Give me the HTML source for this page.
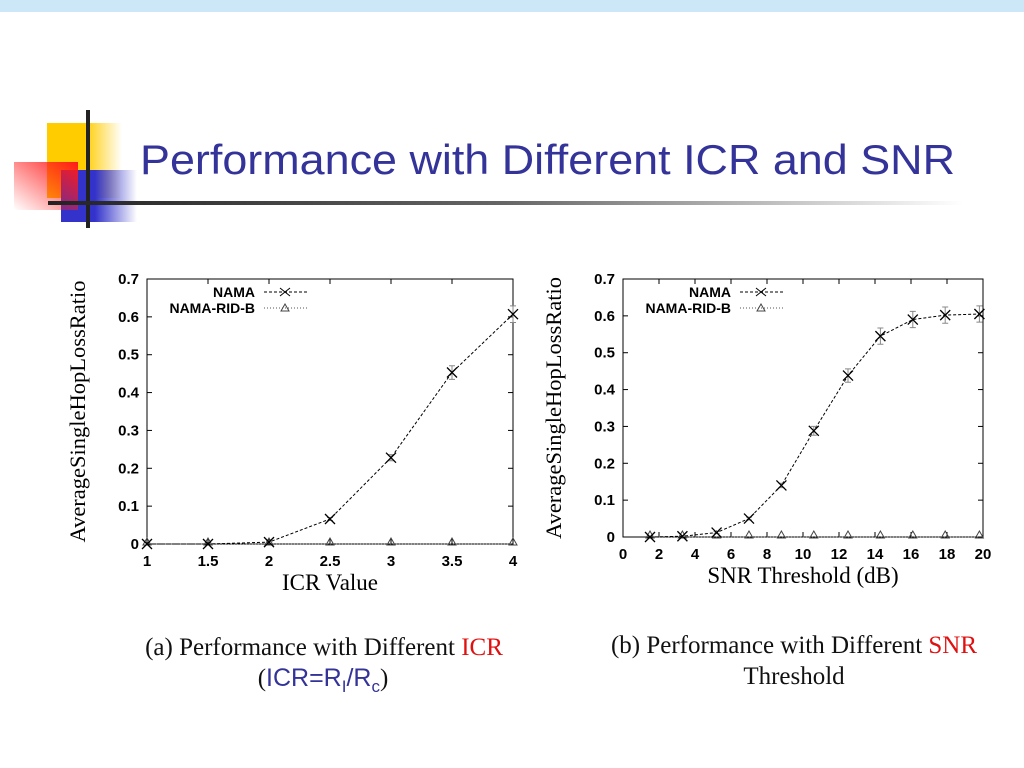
<!DOCTYPE html>
<html><head><meta charset="utf-8"><style>
html,body{margin:0;padding:0;background:#fff;width:1024px;height:768px;overflow:hidden}
svg{display:block}
</style></head><body>
<svg id="s" width="1024" height="768" xmlns="http://www.w3.org/2000/svg">
<defs>
<linearGradient id="gy" x1="0" x2="1"><stop offset="0.5" stop-color="#ffcc00"/><stop offset="1" stop-color="#ffcc00" stop-opacity="0"/></linearGradient>
<linearGradient id="gr" x1="1" y1="0" x2="0" y2="1"><stop offset="0" stop-color="#ff1a1a"/><stop offset="1" stop-color="#ff1a1a" stop-opacity="0"/></linearGradient>
<linearGradient id="gb" x1="0" x2="1"><stop offset="0.3" stop-color="#3333cc"/><stop offset="1" stop-color="#3333cc" stop-opacity="0"/></linearGradient>
<linearGradient id="gl" x1="0" x2="1"><stop offset="0" stop-color="#222"/><stop offset="0.5" stop-color="#666"/><stop offset="1" stop-color="#fff"/></linearGradient>
</defs>
<rect x="0" y="0" width="1024" height="12" fill="#cce8f8"/>
<g>
<rect x="47" y="123" width="75" height="75" fill="url(#gy)"/>
<rect x="77" y="170" width="60" height="52" fill="url(#gb)"/>
<rect x="61" y="170" width="30" height="52" fill="#3333cc"/>
<rect x="14" y="162" width="64" height="48" fill="url(#gr)"/>
<rect x="86" y="110" width="4" height="118" fill="#222"/>
</g>
<rect x="48" y="201" width="915" height="4" fill="url(#gl)"/>
<text x="140" y="174" textLength="815" lengthAdjust="spacingAndGlyphs" font-family="Liberation Sans, sans-serif" font-size="42" fill="#333399">Performance with Different ICR and SNR</text>
<g id="c1"></g>
<g id="c2"></g>
<text x="324" y="655" text-anchor="middle" font-family="Liberation Serif, serif" font-size="25" fill="#111">(a) Performance with Different <tspan fill="#e01010">ICR</tspan></text>
<text x="323" y="686" text-anchor="middle" font-family="Liberation Sans, sans-serif" font-size="25" fill="#333399"><tspan font-family="Liberation Serif, serif" fill="#111">(</tspan>ICR=R<tspan font-size="17" dy="6">I</tspan><tspan dy="-6">/R</tspan><tspan font-size="17" dy="6">c</tspan><tspan dy="-6" font-family="Liberation Serif, serif" fill="#111">)</tspan></text>
<text x="794" y="653" text-anchor="middle" font-family="Liberation Serif, serif" font-size="25" fill="#111">(b) Performance with Different <tspan fill="#e01010">SNR</tspan></text>
<text x="794" y="684" text-anchor="middle" font-family="Liberation Serif, serif" font-size="25" fill="#111">Threshold</text>
</svg>
<script>
const icrX=[1,1.5,2,2.5,3,3.5,4];
const icrNama=[0,0,0.005,0.066,0.228,0.453,0.607];
const icrNamaErr=[0,0,0.003,0.004,0.008,0.018,0.022];
const icrRid=[0,0,0,0,0,0,0];
const icrXTicks=["1","1.5","2","2.5","3","3.5","4"];
const snrX=[1.5,3.3,5.2,7.0,8.8,10.6,12.5,14.3,16.1,17.9,19.8];
const snrNama=[0,0.002,0.012,0.05,0.14,0.288,0.438,0.545,0.59,0.602,0.605];
const snrNamaErr=[0,0,0.003,0.004,0.006,0.012,0.018,0.022,0.022,0.022,0.022];
const snrRid=[0,0,0,0,0,0,0,0,0,0,0];
const snrXTicks=["0","2","4","6","8","10","12","14","16","18","20"];
const yTicks=["0","0.1","0.2","0.3","0.4","0.5","0.6","0.7"];
const NS="http://www.w3.org/2000/svg";
function mk(p,t,a){const e=document.createElementNS(NS,t);for(const k in a)e.setAttribute(k,a[k]);p.appendChild(e);return e;}
function chart(g,o){
 const sx=v=>o.L+(v-o.x0)/(o.x1-o.x0)*(o.R-o.L);
 const sy=v=>o.B-v/0.7*(o.B-o.T);
 const fr=mk(g,'rect',{x:o.L,y:o.T,width:o.R-o.L,height:o.B-o.T,fill:'none',stroke:'#000','stroke-width':1});
 
 yTicks.forEach(t=>{const y=sy(+t);
  mk(g,'line',{x1:o.L,x2:o.L+5,y1:y,y2:y,stroke:'#000'});mk(g,'line',{x1:o.R-5,x2:o.R,y1:y,y2:y,stroke:'#000'});
  const tx=mk(g,'text',{x:o.L-8,y:y+5,'text-anchor':'end','font-family':'Liberation Sans, sans-serif','font-size':15,'font-weight':'bold'});tx.textContent=t;
  });
 o.ticks.forEach(t=>{const x=sx(+t);
  mk(g,'line',{x1:x,x2:x,y1:o.B,y2:o.B-5,stroke:'#000'});mk(g,'line',{x1:x,x2:x,y1:o.T,y2:o.T+5,stroke:'#000'});
  const tx=mk(g,'text',{x:x,y:o.B+22,'text-anchor':'middle','font-family':'Liberation Sans, sans-serif','font-size':15,'font-weight':'bold'});tx.textContent=t;
  });
 const xt=mk(g,'text',{x:(o.L+o.R)/2,y:o.B+46,'text-anchor':'middle','font-family':'Liberation Serif, serif','font-size':23});xt.textContent=o.xl;
 
 const yt=mk(g,'text',{x:0,y:0,transform:`translate(${o.L-62},${(o.T+o.B)/2}) rotate(-90)`,'text-anchor':'middle','font-family':'Liberation Serif, serif','font-size':22.5});yt.textContent='AverageSingleHopLossRatio';
 
 const ptsR=o.xs.map((v,i)=>sx(v)+','+sy(o.rid[i])).join(' ');
 const lr=mk(g,'polyline',{points:ptsR,fill:'none',stroke:'#555','stroke-dasharray':'1,2'});
 const pts=o.xs.map((v,i)=>sx(v)+','+sy(o.nama[i])).join(' ');
 const ln=mk(g,'polyline',{points:pts,fill:'none',stroke:'#000','stroke-dasharray':'3,2'});
 o.xs.forEach((v,i)=>{const x=sx(v),y=sy(o.rid[i]);
  const tr=mk(g,'path',{d:`M${x-4},${y+1}L${x},${y-6}L${x+4},${y+1}Z`,fill:'none',stroke:'#444'});});
 o.xs.forEach((v,i)=>{const x=sx(v),y=sy(o.nama[i]);const e=o.err[i];
  if(e>0){const y1=sy(o.nama[i]+e),y2=sy(o.nama[i]-e);
   const eb=mk(g,'path',{d:`M${x},${y1}V${y2}M${x-3},${y1}H${x+3}M${x-3},${y2}H${x+3}`,stroke:'#888',fill:'none'});}
  const m=mk(g,'path',{d:`M${x-5},${y-5}L${x+5},${y+5}M${x-5},${y+5}L${x+5},${y-5}`,stroke:'#000','stroke-width':1.3});});
 const lx=o.L+108;
 [['NAMA',o.T+13,'3,2','#000'],['NAMA-RID-B',o.T+29,'1,2','#555']].forEach((r,k)=>{
  const t=mk(g,'text',{x:lx,y:r[1]+5,'text-anchor':'end','font-family':'Liberation Sans, sans-serif','font-size':14,'font-weight':'bold'});t.textContent=r[0];
  
  mk(g,'line',{x1:lx+9,x2:lx+52,y1:r[1],y2:r[1],stroke:r[3],'stroke-dasharray':r[2]});
  const cx=lx+30,cy=r[1];
  if(k==0)mk(g,'path',{d:`M${cx-5},${cy-4}L${cx+5},${cy+4}M${cx-5},${cy+4}L${cx+5},${cy-4}`,stroke:'#000'});
  else mk(g,'path',{d:`M${cx-4},${cy+3}L${cx},${cy-4}L${cx+4},${cy+3}Z`,fill:'none',stroke:'#444'});});
}
chart(document.getElementById('c1'),{L:147,R:513,T:279,B:544,x0:1,x1:4,xs:icrX,nama:icrNama,err:icrNamaErr,rid:icrRid,ticks:icrXTicks,xl:'ICR Value'});
chart(document.getElementById('c2'),{L:623,R:983,T:279,B:537,x0:0,x1:20,xs:snrX,nama:snrNama,err:snrNamaErr,rid:snrRid,ticks:snrXTicks,xl:'SNR Threshold (dB)'});
</script>
</body></html>
